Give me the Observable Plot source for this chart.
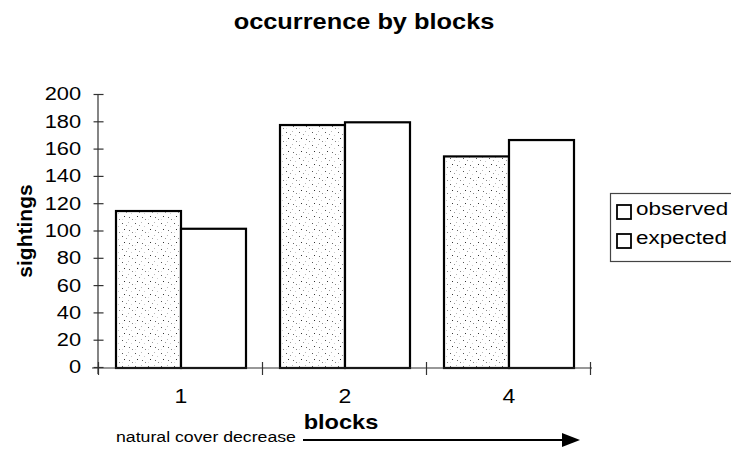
<!DOCTYPE html>
<html><head><meta charset="utf-8">
<script src="https://cdn.jsdelivr.net/npm/d3@7"></script>
<script src="https://cdn.jsdelivr.net/npm/@observablehq/plot@0.6"></script>
<style>html,body{margin:0;padding:0;background:#fff}#chart svg{display:block}</style>
</head><body><div id="chart"></div>
<script>
const blocks = ["1", "2", "4"];
const series = ["observed", "expected"];
const observed = [115, 178, 155];
const expected = [102, 180, 167];
const yTicks = [0, 20, 40, 60, 80, 100, 120, 140, 160, 180, 200];
const title = "occurrence by blocks";
const yLabel = "sightings";
const xLabel = "blocks";
const caption = "natural cover decrease";

const rows = blocks.flatMap((b, i) => [
  {block: b, series: series[0], value: observed[i]},
  {block: b, series: series[1], value: expected[i]}
]);

const FONT = "'Liberation Sans', Arial, Helvetica, sans-serif";
const STRETCH = 1.18;
const W = 731, H = 449, ML = 98, MR = 139, MT = 95, MB = 81;
const PAD_INNER = 0.2, PAD_OUTER = 0.1;
// offset between frame left edge and first facet (band scale outer padding)
const outerOffset = PAD_OUTER * (W - ML - MR) / (blocks.length - PAD_INNER + 2 * PAD_OUTER);

const plot = Plot.plot({
  width: W, height: H,
  marginLeft: ML, marginRight: MR, marginTop: MT, marginBottom: MB,
  style: {fontFamily: FONT, background: "#fff", color: "#000", overflow: "visible"},
  fx: {domain: blocks, paddingInner: PAD_INNER, paddingOuter: PAD_OUTER, label: null},
  x: {domain: series, padding: 0, axis: null},
  y: {domain: [0, 200], label: null},
  marks: [
    Plot.barY(rows.filter(d => d.series === "observed"), {fx: "block", x: "series", y: "value", fill: "url(#stipple)", stroke: "#000", strokeWidth: 2.2}),
    Plot.barY(rows.filter(d => d.series === "expected"), {fx: "block", x: "series", y: "value", fill: "#fff", stroke: "#000", strokeWidth: 2.2}),
    Plot.axisY({ticks: yTicks, tickSize: 10, dx: 5 - outerOffset, dy: -1, tickPadding: 13, fontSize: 18.5, label: null, stroke: "#333", strokeWidth: 1.2}),
    Plot.axisFx({anchor: "bottom", tickSize: 0, tickPadding: 21, fontSize: 19.5, label: null})
  ]
});
document.getElementById("chart").appendChild(plot);

const svg = d3.select(plot);
const fxS = plot.scale("fx"), yS = plot.scale("y");

// stipple pattern
const defs = svg.insert("defs", ":first-child");
const pat = defs.append("pattern").attr("id", "stipple").attr("patternUnits", "userSpaceOnUse")
  .attr("width", 13).attr("height", 13);
pat.append("rect").attr("width", 13).attr("height", 13).attr("fill", "#fff");
[[1,2,"#555"],[7,1,"#bbb"],[3,8,"#333"],[10,5,"#ccc"],[5,4,"#999"],[11,11,"#888"],[1,11,"#ddd"],[8,9,"#666"]]
  .forEach(([cx, cy, c]) => pat.append("rect").attr("x", cx).attr("y", cy).attr("width", 1).attr("height", 1).attr("fill", c));

// axis lines and category boundary ticks
const starts = blocks.map(b => fxS.apply(b));
const step = starts[1] - starts[0];
const bw = fxS.bandwidth ?? step * (1 - PAD_INNER);
const gap = step - bw;
const y0 = yS.apply(0), yTop = yS.apply(200);
const xl = fxS.range[0], xr = fxS.range[1];
const g = svg.append("g").attr("stroke", "#333").attr("stroke-width", 1.2);
g.append("line").attr("x1", xl).attr("x2", xl).attr("y1", yTop).attr("y2", y0 + 6);
g.append("line").attr("x1", xl - 6).attr("x2", xr).attr("y1", y0).attr("y2", y0);
const bounds = starts.map(s => s - gap / 2).concat([starts[starts.length - 1] + bw + gap / 2]);
bounds.forEach(bx => g.append("line").attr("x1", bx).attr("x2", bx).attr("y1", y0 - 6).attr("y2", y0 + 7));

// texts
svg.append("text").attr("x", 364).attr("y", 29).attr("text-anchor", "middle")
  .attr("font-weight", "bold").attr("font-size", 21.5).text(title);
svg.append("text").attr("x", 341).attr("y", 429).attr("text-anchor", "middle")
  .attr("font-weight", "bold").attr("font-size", 20).text(xLabel);
svg.append("text").attr("x", 206).attr("y", 442).attr("text-anchor", "middle")
  .attr("font-size", 15).text(caption);

// arrow
svg.append("line").attr("x1", 303).attr("x2", 566).attr("y1", 440).attr("y2", 440)
  .attr("stroke", "#000").attr("stroke-width", 2.2);
svg.append("path").attr("d", "M562,433 L580,440 L562,447 Z").attr("fill", "#000");

// legend
const lg = svg.append("g").attr("text-anchor", "start");
lg.append("rect").attr("x", 610.5).attr("y", 193.5).attr("width", 140).attr("height", 68)
  .attr("fill", "#fff").attr("stroke", "#444").attr("stroke-width", 1.2);
series.forEach((s, i) => {
  const yy = 205 + i * 29;
  lg.append("rect").attr("x", 617).attr("y", yy).attr("width", 14).attr("height", 14)
    .attr("fill", "#fff").attr("stroke", "#000").attr("stroke-width", 1.8);
  lg.append("text").attr("x", 636).attr("y", yy + 10).attr("text-anchor", "start").attr("font-size", 19).text(s);
});

// horizontal stretch for all texts (matches reference glyph widths)
svg.selectAll("text").each(function() {
  const x = +this.getAttribute("x") || 0, yv = +this.getAttribute("y") || 0;
  const t = this.getAttribute("transform") || "";
  this.setAttribute("transform", `${t} translate(${x},${yv}) scale(${STRETCH},1) translate(${-x},${-yv})`);
});

// rotated y label (not stretched)
svg.append("text").attr("transform", "translate(32,231) rotate(-90)").attr("text-anchor", "middle")
  .attr("font-weight", "bold").attr("font-size", 21).text(yLabel);
</script></body></html>
